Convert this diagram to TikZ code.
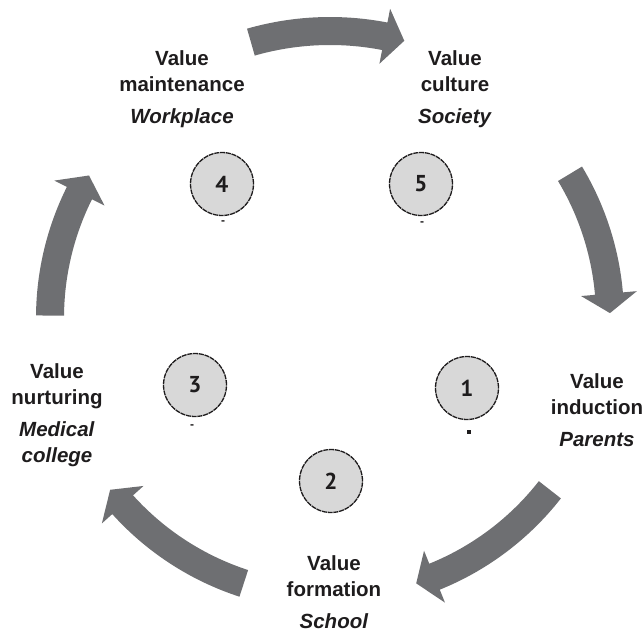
\documentclass[tikz,border=0pt]{standalone}
\usepackage{fontspec}
\setmainfont{Liberation Sans}
\newfontfamily\digitfont{PT Sans}
\usetikzlibrary{calc}

\definecolor{arrowgray}{RGB}{110,111,114}
\definecolor{discgray}{RGB}{216,216,216}
\definecolor{inkdark}{RGB}{30,28,29}

% curved block arrow on the ring around (C):
% #1 mid radius, #2 tail angle, #3 head base angle, #4 tip angle
\newcommand\ringarrow[4]{%
  \fill[arrowgray]
    ($(C)+(#2:#1+14)$) arc[start angle=#2, end angle=#3, radius=#1+14]
    -- ($(C)+(#3:#1+28)$) -- ($(C)+(#4:#1)$) -- ($(C)+(#3:#1-28)$)
    -- ($(C)+(#3:#1-14)$) arc[start angle=#3, end angle=#2, radius=#1-14]
    -- cycle;}

\begin{document}
\begin{tikzpicture}[x=1pt,y=-1pt,
  disc/.style={circle, minimum size=63pt, inner sep=0pt, fill=discgray,
    draw=inkdark, line width=1.3pt, dash pattern=on 5pt off 0.8pt,
    text=inkdark, font=\digitfont\bfseries\fontsize{23}{23}\selectfont},
  tick/.style={inner sep=0pt, text=inkdark, font=\bfseries\fontsize{12}{12}\selectfont},
  dot/.style={rectangle, inner sep=0pt, minimum size=3.5pt, fill=inkdark},
  stagelabel/.style={align=center, text=inkdark,
    font=\bfseries\fontsize{20.5}{26}\selectfont}]
\useasboundingbox (0,0) rectangle (644,635);
\coordinate (C) at (330,318);

% the five arrows of the cycle
\ringarrow{287}{-106}{-79}{-75}
\ringarrow{280}{-31}{-5}{-1}
\ringarrow{279}{38}{68}{72}
\ringarrow{279}{108}{138}{142}
\ringarrow{280}{180.5}{206.5}{210.6}

% numbered stages
\node[disc] (s1) at (467,388) {1};
\node[disc] (s2) at (331,481) {2};
\node[disc] (s3) at (195,385) {3};
\node[disc] (s4) at (222,184) {4};
\node[disc] (s5) at (421,184) {5};

\node[dot] (t1) at (469,432) {};
\node[tick] (t3) at (192,427) {-};
\node[tick] (t4) at (223,223) {-};
\node[tick] (t5) at (422,224) {-};

% stage labels
\node[stagelabel] (l1) at (597,410) {Value\\induction\\[6pt]\textit{Parents}};
\node[stagelabel] (l2) at (334,592) {Value\\formation\\[6pt]\textit{School}};
\node[stagelabel] (l3) at (57,415) {Value\\nurturing\\[6pt]\textit{Medical}\\\textit{college}};
\node[stagelabel] (l4) at (182,89) {Value\\maintenance\\[6pt]\textit{Workplace}};
\node[stagelabel] (l5) at (455,89) {Value\\culture\\[6pt]\textit{Society}};
\end{tikzpicture}
\end{document}
